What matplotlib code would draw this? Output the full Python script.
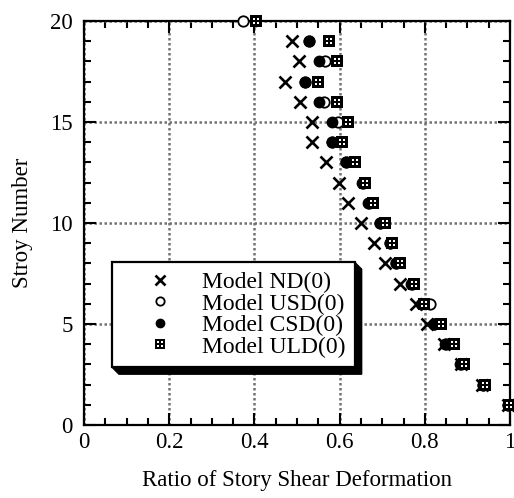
import numpy as np
import matplotlib
matplotlib.use("Agg")
import matplotlib.pyplot as plt
from matplotlib.path import Path
from matplotlib.patches import Polygon
from matplotlib.transforms import IdentityTransform
from matplotlib.ticker import MultipleLocator, FixedLocator

plt.rcParams['font.family'] = ['Liberation Serif', 'DejaVu Serif']

stories = list(range(1, 21))
nd  = [0.996, 0.935, 0.885, 0.845, 0.804, 0.779, 0.742, 0.707, 0.681, 0.650,
       0.620, 0.598, 0.567, 0.536, 0.535, 0.506, 0.473, 0.505, 0.488, np.nan]
usd = [0.996, 0.936, 0.884, 0.850, 0.822, 0.812, 0.770, 0.732, 0.718, 0.695,
       0.668, 0.654, 0.614, 0.583, 0.597, 0.563, 0.519, 0.566, 0.528, 0.373]
csd = [0.996, 0.936, 0.882, 0.848, 0.822, 0.790, 0.768, 0.732, 0.718, 0.694,
       0.666, 0.652, 0.614, 0.582, 0.582, 0.551, 0.519, 0.552, 0.528, 0.402]
uld = [0.998, 0.941, 0.892, 0.868, 0.837, 0.799, 0.774, 0.741, 0.724, 0.706,
       0.679, 0.660, 0.637, 0.606, 0.619, 0.593, 0.549, 0.593, 0.575, 0.404]
labels = ['Model ND(0)', 'Model USD(0)', 'Model CSD(0)', 'Model ULD(0)']

# custom marker: black square with four white windows
def sq(x0, x1, y0, y1):
    return [(x0, y0), (x1, y0), (x1, y1), (x0, y1), (x0, y0)]
CODES = [Path.MOVETO, Path.LINETO, Path.LINETO, Path.LINETO, Path.CLOSEPOLY]
a, b = 0.14, 0.52
windows = [sq(-b, -a, -b, -a), sq(a, b, -b, -a), sq(-b, -a, a, b), sq(a, b, a, b)]
outer = sq(-1, 1, -1, 1)
uld_marker = Path(outer + [p for w in windows for p in w[::-1]], CODES * 5)
# window marker keeps the same bounding box as the outer square (invisible corners)
win_verts, win_codes = [], []
for w in windows:
    win_verts += w
    win_codes += CODES
win_verts += [(-1, -1), (1, 1)]
win_codes += [Path.MOVETO, Path.MOVETO]
win_marker = Path(win_verts, win_codes)

fig = plt.figure(figsize=(5.14, 4.98), dpi=100)
ax = fig.add_axes([84/514, 73/498, 426/514, 404/498])

ax.plot(nd, stories, ls='none', marker='x', ms=8.7, mew=1.9, color='black',
        label=labels[0], zorder=3, clip_on=False)
ax.plot(usd, stories, ls='none', marker='o', ms=7.5, mew=1.3, mfc='white', mec='black',
        label=labels[1], zorder=3.1, clip_on=False)
ax.plot(csd, stories, ls='none', marker='o', ms=7.5, mew=1.0, mfc='black', mec='black',
        label=labels[2], zorder=3.2, clip_on=False)
ax.plot(uld, stories, ls='none', marker=uld_marker, ms=8.8, mew=0, mfc='black', mec='black',
        label=labels[3], zorder=3.3, clip_on=False)
ax.plot(uld, stories, ls='none', marker=win_marker, ms=8.8, mew=0, mfc='white', mec='white',
        zorder=3.4, clip_on=False)

ax.set_xlim(0, 1)
ax.set_ylim(0, 20)
ax.xaxis.set_major_locator(FixedLocator([0, 0.2, 0.4, 0.6, 0.8, 1.0]))
ax.set_xticklabels(['0', '0.2', '0.4', '0.6', '0.8', '1'])
ax.xaxis.set_minor_locator(MultipleLocator(0.05))
ax.yaxis.set_major_locator(MultipleLocator(5))
ax.yaxis.set_minor_locator(MultipleLocator(1))

ax.tick_params(which='both', direction='in', top=True, right=True, width=1.5,
               labelsize=16.5, color='black')
ax.tick_params(axis='x', which='both', pad=5)
ax.tick_params(axis='y', which='both', pad=8)
ax.tick_params(which='major', length=8.5)
ax.tick_params(which='minor', length=5)
for s in ax.spines.values():
    s.set_linewidth(1.6)

ax.grid(True, which='major', color='0.45', ls=(0, (1, 1)), lw=1.8)
ax.set_axisbelow(True)

ax.set_xlabel('Ratio of Story Shear Deformation', fontsize=16.5, labelpad=12)
ax.set_ylabel('Stroy Number', fontsize=16.5, labelpad=12)

leg = ax.legend(loc='upper left', bbox_to_anchor=(0.0657, 0.403), borderaxespad=0,
                fontsize=17, frameon=True, fancybox=False, framealpha=1,
                edgecolor='black', handlelength=3.3, handletextpad=0.1,
                labelspacing=0.0, borderpad=0.4, markerscale=0.8)
leg.get_frame().set_linewidth(1.6)
leg.set_zorder(6)

fig.canvas.draw()
bb = leg.get_window_extent()
x0, y0, x1, y1 = bb.x0, bb.y0, bb.x1, bb.y1
d = 7
shadow = Polygon([(x1, y1), (x1 + d, y1 - d), (x1 + d, y0 - d), (x0 + d, y0 - d), (x0, y0), (x1, y0)],
                 closed=True, facecolor='black', edgecolor='black',
                 transform=IdentityTransform(), clip_on=False, zorder=5.9)
ax.add_patch(shadow)

fig.savefig('out.png', dpi=100)
